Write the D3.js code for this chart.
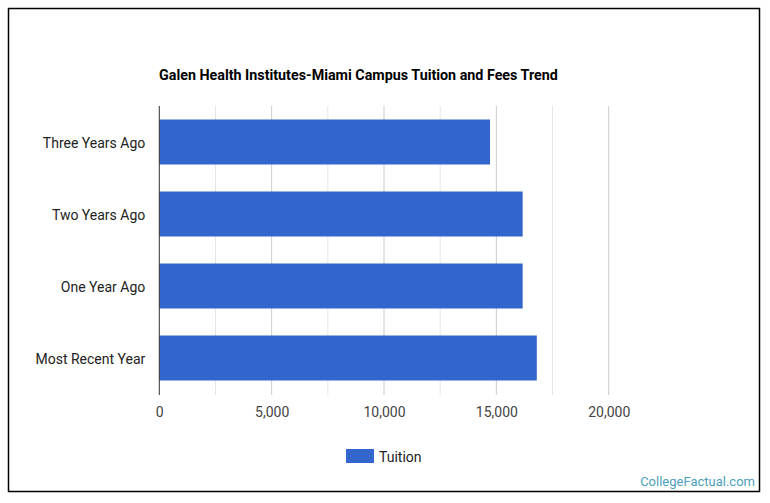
<!DOCTYPE html>
<html>
<head>
<meta charset="utf-8">
<script src="https://cdn.jsdelivr.net/npm/d3@7/dist/d3.min.js"></script>
<style>
	body { margin: 0; background: #fff; }
	text { font-family: Roboto, "Noto Sans", sans-serif; }
</style>
</head>
<body>
<svg id="svg"></svg>
<script>
var width = 770, height = 503;

var categories = ["Three Years Ago", "Two Years Ago", "One Year Ago", "Most Recent Year"];
var tuition = [14720, 16170, 16170, 16800];
var xTicks = [0, 5000, 10000, 15000, 20000];
var gridTicks = [0, 2500, 5000, 7500, 10000, 12500, 15000, 17500, 20000];
var title = "Galen Health Institutes-Miami Campus Tuition and Fees Trend";
var seriesName = "Tuition";

var svg = d3.select("#svg")
	.attr("width", width)
	.attr("height", height);

svg.append("rect")
	.attr("x", 8.5)
	.attr("y", 8.5)
	.attr("width", 751)
	.attr("height", 483)
	.style("fill", "#fff")
	.style("stroke", "#000")
	.style("stroke-width", 1.5);

var x = d3.scaleLinear()
	.domain([0, 20000])
	.range([159.3, 608.7]);
var y = d3.scaleBand()
	.domain(categories)
	.range([106, 394])
	.paddingInner(0.375)
	.paddingOuter(0.1875);

// grid
svg.append("g")
	.selectAll("line")
	.data(gridTicks.slice(1))
	.enter()
	.append("line")
	.attr("x1", function(d) { return x(d); })
	.attr("x2", function(d) { return x(d); })
	.attr("y1", 106)
	.attr("y2", 395)
	.style("stroke", function(d) { return d % 5000 == 0 ? "#ccc" : "#e6e6e6"; })
	.style("stroke-width", 1);

svg.append("g")
	.selectAll("rect")
	.data(tuition)
	.enter()
	.append("rect")
	.attr("x", x(0))
	.attr("y", function(d, i) { return y(categories[i]); })
	.attr("width", function(d) { return x(d) - x(0); })
	.attr("height", y.bandwidth())
	.style("fill", "#3366cc");

// baseline
svg.append("line")
	.attr("x1", x(0))
	.attr("x2", x(0))
	.attr("y1", 106)
	.attr("y2", 395)
	.style("stroke", "#333")
	.style("stroke-width", 1);

var xAxis = d3.axisBottom(x)
	.tickValues(xTicks)
	.tickSize(0)
	.tickPadding(0)
	.tickFormat(d3.format(","));
var gx = svg.append("g")
	.attr("transform", "translate(0,398)")
	.call(xAxis);
gx.select(".domain").remove();
gx.selectAll("text")
	.attr("dy", "19px")
	.style("font-size", "14px")
	.style("fill", "#444")
	.style("font-family", "Roboto, sans-serif");

var yAxis = d3.axisLeft(y)
	.tickSize(0)
	.tickPadding(14);
var gy = svg.append("g")
	.attr("transform", "translate(" + x(0) + ",2)")
	.call(yAxis);
gy.select(".domain").remove();
gy.selectAll("text")
	.style("font-size", "14px")
	.style("fill", "#222")
	.style("font-family", "Roboto, sans-serif");

svg.append("text")
	.attr("x", 159)
	.attr("y", 80)
	.style("font-size", "14.3px")
	.style("font-weight", "bold")
	.style("fill", "#000")
	.text(title);

// legend
svg.append("rect")
	.attr("x", 346)
	.attr("y", 449)
	.attr("width", 28)
	.attr("height", 14)
	.style("fill", "#3366cc");
svg.append("text")
	.attr("x", 379)
	.attr("y", 462)
	.style("font-size", "14px")
	.style("fill", "#222")
	.text(seriesName);

svg.append("text")
	.attr("x", 755)
	.attr("y", 486)
	.style("text-anchor", "end")
	.style("font-size", "13px")
	.style("fill", "#4c9fb8")
	.text("CollegeFactual.com");
</script>
</body>
</html>
